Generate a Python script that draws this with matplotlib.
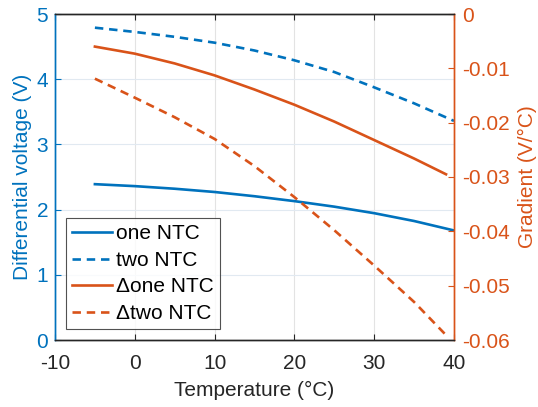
import numpy as np
import matplotlib
matplotlib.use('Agg')
import matplotlib.pyplot as plt

plt.rcParams['font.family'] = ['Liberation Sans', 'DejaVu Sans']
plt.rcParams['axes.unicode_minus'] = False

# data
temp = np.array([-5, 0, 5, 10, 15, 20, 25, 30, 35, 40])
one_ntc = np.array([2.39, 2.36, 2.32, 2.27, 2.205, 2.13, 2.045, 1.945, 1.825, 1.68])
two_ntc = np.array([4.79, 4.725, 4.65, 4.56, 4.44, 4.29, 4.11, 3.875, 3.63, 3.36])

temp_g = np.array([-5, 0, 5, 10, 15, 20, 25, 30, 35, 39])
d_one_ntc = np.array([-0.0060, -0.0073, -0.0091, -0.0113, -0.0139, -0.0167, -0.0198, -0.0232, -0.0266, -0.0295])
d_two_ntc = np.array([-0.0119, -0.0154, -0.0190, -0.0230, -0.0280, -0.0337, -0.0398, -0.0463, -0.0530, -0.0591])

blue = '#0072BD'
orange = '#D95319'
dark = '#262626'
fs = 15

fig = plt.figure(figsize=(5.38, 4.07), dpi=100)
ax = fig.add_axes([55/538, 67/407, 399/538, 326/407])
ax2 = ax.twinx()

dash = (3.2, 2.2)
l1, = ax.plot(temp, one_ntc, color=blue, lw=1.9, label='one NTC')
l2, = ax.plot(temp, two_ntc, color=blue, lw=1.9, dashes=dash, label='two NTC')
l3, = ax2.plot(temp_g, d_one_ntc, color=orange, lw=1.9, label='Δone NTC')
l4, = ax2.plot(temp_g, d_two_ntc, color=orange, lw=1.9, dashes=dash, label='Δtwo NTC')

ax.set_xlim(-10, 40)
ax.set_ylim(0, 5)
ax2.set_ylim(-0.06, 0)
ax.set_xticks(np.arange(-10, 41, 10))
ax.set_yticks(np.arange(0, 6, 1))
ax2.set_yticks(np.arange(-0.06, 0.001, 0.01))
ax2.set_yticklabels(['-0.06', '-0.05', '-0.04', '-0.03', '-0.02', '-0.01', '0'])

# grid
for x in [0, 10, 20, 30]:
    ax.axvline(x, color='#e3e3e3', lw=0.8, zorder=0)
for y in [1, 2, 3, 4]:
    ax.axhline(y, color='#e1e9f1', lw=0.8, zorder=0)

ax.tick_params(axis='x', direction='in', top=True, length=4, labelsize=fs, colors=dark, pad=10)
ax.tick_params(axis='y', direction='in', length=4, labelsize=fs, colors=blue, pad=5)
ax2.tick_params(axis='y', direction='in', length=4, labelsize=fs, colors=orange, pad=5.5)

for a in (ax, ax2):
    a.spines['top'].set_color(dark)
    a.spines['bottom'].set_color(dark)
    a.spines['left'].set_color(blue)
    a.spines['right'].set_color(orange)
    for s in a.spines.values():
        s.set_linewidth(1.0)

ax.set_xlabel('Temperature (°C)', fontsize=fs, color=dark, labelpad=6)
ax.set_ylabel('Differential voltage (V)', fontsize=fs, color=blue, labelpad=3)
ax2.set_ylabel('Gradient (V/°C)', fontsize=fs, color=orange, labelpad=6.5)

leg = ax2.legend(handles=[l1, l2, l3, l4], loc='lower left', bbox_to_anchor=(0.027, 0.033),
                 fontsize=fs, frameon=True, fancybox=False, borderpad=0.3,
                 handlelength=1.9, handletextpad=0.2, labelspacing=0.36, borderaxespad=0)
leg.get_frame().set_edgecolor(dark)
leg.get_frame().set_linewidth(0.8)

plt.savefig('out.png', dpi=100)
